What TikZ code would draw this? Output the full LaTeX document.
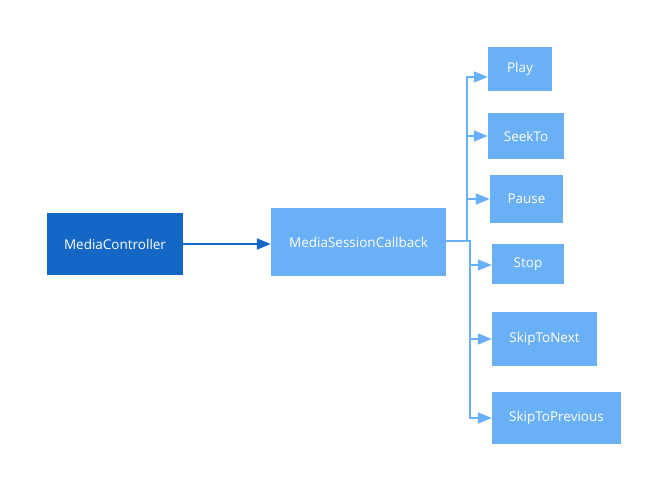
\documentclass[tikz,border=0pt]{standalone}
\usepackage{fontspec}
\setmainfont{Open Sans}
\usetikzlibrary{arrows.meta,calc}
\definecolor{darkb}{HTML}{1567C6}
\definecolor{lightb}{HTML}{6AB0F7}
\begin{document}
\begin{tikzpicture}[x=1pt,y=-1pt,
  box/.style={draw=none,fill=lightb,text=white,font=\fontsize{13.5}{15}\selectfont,inner sep=0pt},
  conn/.style={draw=lightb,line width=1.8pt,-{Triangle[length=14pt,width=11pt]}},
  mainarrow/.style={draw=darkb,line width=1.8pt,-{Triangle[length=14pt,width=11pt]}}]
\useasboundingbox (0,0) rectangle (652,476);
\node[box,fill=darkb,minimum width=136pt,minimum height=62pt] (mc) at (115,244) {MediaController};
\node[box,minimum width=175pt,minimum height=68pt] (msc) at (358.5,242) {MediaSessionCallback};
\node[box,minimum width=64pt,minimum height=44pt] (play) at (520,69) {Play};
\node[box,minimum width=76pt,minimum height=46pt] (seek) at (526,136) {SeekTo};
\node[box,minimum width=73pt,minimum height=48pt] (pause) at (526.5,199) {Pause};
\node[box,minimum width=72pt,minimum height=40pt] (stop) at (528,264) {Stop};
\node[box,minimum width=105pt,minimum height=54pt] (next) at (544.5,339) {SkipToNext};
\node[box,minimum width=129pt,minimum height=52pt] (prev) at (556.5,418) {SkipToPrevious};
\coordinate (j1) at (467,241);
\coordinate (j2) at (470,241);
\draw[mainarrow] (mc.east) -- (mc.east -| msc.west);
\draw[conn] (msc.east |- j1) -- (j1) |- ($(play.west)+(0,8)$);
\draw[conn] (msc.east |- j1) -- (j1) |- (seek.west);
\draw[conn] (msc.east |- j1) -- (j1) |- (pause.west);
\draw[conn] (msc.east |- j1) -- (j2) |- ($(stop.west)+(0,1)$);
\draw[conn] (msc.east |- j1) -- (j2) |- (next.west);
\draw[conn] (msc.east |- j1) -- (j2) |- (prev.west);
\end{tikzpicture}
\end{document}
